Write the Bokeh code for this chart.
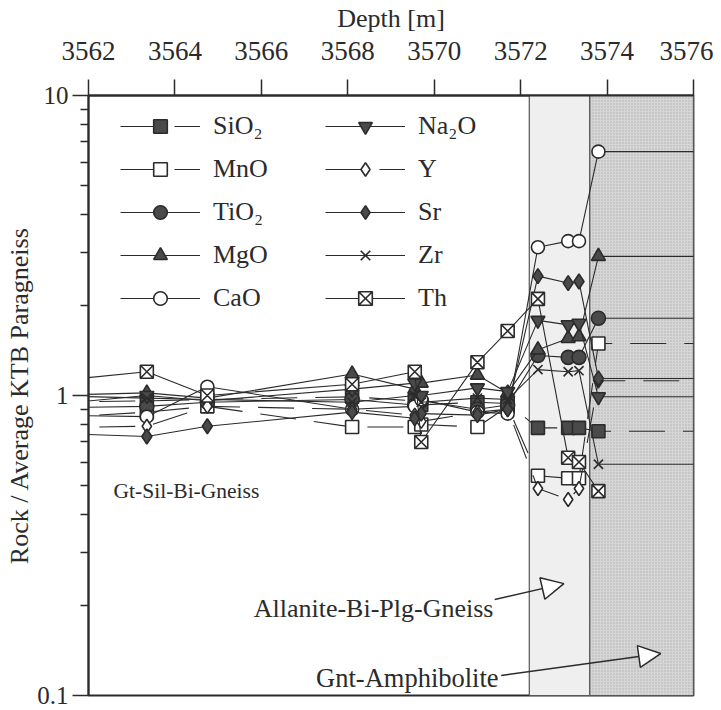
from bokeh.plotting import figure
from bokeh.models import (FixedTicker, Legend, LegendItem, Arrow, NormalHead, Label,
                          Range1d, ColumnDataSource)
from bokeh.embed import file_html
from bokeh.resources import INLINE

# ---------------- data ----------------
depth = [3561.0, 3563.35, 3564.75, 3568.1, 3569.55, 3569.7, 3571.0, 3571.7,
         3572.4, 3573.1, 3573.35, 3573.8, 3577.0]

SiO2 = [0.95, 0.96, 0.97, 0.99, 0.96, 0.93, 0.95, 0.94, 0.78, 0.78, 0.78, 0.76, 0.76]
MnO  = [0.84, 0.88, 0.92, 0.785, 0.785, 0.80, 0.785, 0.92, 0.54, 0.53, 0.53, 1.49, 1.49]
TiO2 = [0.91, 0.92, 0.95, 0.97, 0.93, 0.96, 0.90, 0.93, 1.36, 1.34, 1.34, 1.81, 1.81]
MgO  = [1.00, 1.02, 0.98, 1.18, 1.05, 1.10, 1.17, 1.02, 1.42, 1.55, 1.57, 2.91, 2.91]
CaO  = [0.86, 0.85, 1.07, 0.90, 0.92, 0.97, 0.88, 0.87, 3.12, 3.27, 3.27, 6.5, 6.5]
Na2O = [0.93, 1.00, 0.96, 1.05, 1.10, 1.00, 1.06, 1.03, 1.78, 1.72, 1.74, 0.99, 0.99]
Y    = [0.78, 0.79, 0.92, 0.90, 0.86, 0.82, 0.88, 0.90, 0.49, 0.45, 0.49, 1.12, 1.12]
Sr   = [0.75, 0.73, 0.79, 0.88, 0.84, 0.87, 0.86, 0.90, 2.50, 2.37, 2.40, 1.14, 1.14]
Zr   = [1.00, 0.98, 0.97, 0.95, 1.00, 0.95, 0.98, 0.97, 1.22, 1.20, 1.21, 0.59, 0.59]
Th   = [1.11, 1.20, 1.00, 1.09, 1.20, 0.70, 1.29, 1.64, 2.10, 0.62, 0.60, 0.48, float("nan")]

x_ticks = [3562, 3564, 3566, 3568, 3570, 3572, 3574, 3576]
y_ticks = [0.1, 1, 10]
y_tick_labels = ["0.1", "1", "10"]

# lithology zones (depth boundaries)
zone_allanite = [3572.2, 3573.6]
zone_amphibolite = [3573.6, 3576.0]

FONT = "Liberation Serif"
INK = "#2b2b2b"

# ---------------- figure ----------------
p = figure(frame_width=605, frame_height=600,
           x_range=Range1d(3562, 3576), y_range=Range1d(0.1, 10),
           y_axis_type="log", x_axis_location="above",
           output_backend="svg", toolbar_location=None,
           min_border_left=88, min_border_top=94, min_border_right=20, min_border_bottom=16)
p.xgrid.visible = False
p.ygrid.visible = False
p.outline_line_color = INK
p.outline_line_width = 1.8
p.background_fill_color = "white"
p.border_fill_color = "white"

# zones
p.quad(left=[zone_allanite[0]], right=[zone_allanite[1]], bottom=[0.1], top=[10],
       fill_color="#efefef", line_color="#555555", line_width=1.2)
p.quad(left=[zone_amphibolite[0]], right=[zone_amphibolite[1]], bottom=[0.1], top=[10],
       fill_color="#d6d6d6", line_color="#555555", line_width=1.2,
       hatch_pattern=".", hatch_color="#a0a0a0", hatch_scale=3, hatch_alpha=0.7)

src = ColumnDataSource(dict(depth=depth, SiO2=SiO2, MnO=MnO, TiO2=TiO2, MgO=MgO, CaO=CaO,
                            Na2O=Na2O, Y=Y, Sr=Sr, Zr=Zr, Th=Th))

series = [
    ("SiO2", "SiO₂", "square", True, True, 13),
    ("MnO", "MnO", "square", False, True, 13),
    ("TiO2", "TiO₂", "circle", True, False, 14),
    ("MgO", "MgO", "triangle", True, False, 14),
    ("CaO", "CaO", "circle", False, False, 13),
    ("Na2O", "Na₂O", "inverted_triangle", True, False, 14),
    ("Y", "Y", "diamond", False, True, 14),
    ("Sr", "Sr", "diamond", True, False, 15),
    ("Zr", "Zr", "x", False, False, 13),
    ("Th", "Th", "square_x", False, False, 13),
]

items = []
for col, lab, marker, filled, dashed, size in series:
    lr = p.line("depth", col, source=src, line_color=INK, line_width=1.1,
                line_dash="36 18" if dashed else "solid")
    sr = p.scatter("depth", col, source=src, marker=marker, size=size,
                   fill_color="#4a4a4a" if filled else "white",
                   line_color=INK, line_width=1.6)
    items.append(LegendItem(label=lab, renderers=[lr, sr]))


def make_legend(its, loc):
    return Legend(items=its, location=loc, orientation="vertical",
                  glyph_width=80, glyph_height=34, label_height=34, spacing=9,
                  label_standoff=13, padding=0, margin=0,
                  border_line_color=None, background_fill_alpha=0.0,
                  label_text_font=FONT, label_text_font_size="26px",
                  label_text_color=INK)


p.add_layout(make_legend(items[:5], (32, 380)))
p.add_layout(make_legend(items[5:], (237, 380)))

# axes
xa = p.xaxis[0]
xa.ticker = FixedTicker(ticks=x_ticks, minor_ticks=[])
xa.axis_label = "Depth [m]"
xa.axis_label_text_font = FONT
xa.axis_label_text_font_style = "normal"
xa.axis_label_text_font_size = "26px"
xa.axis_label_text_color = INK
xa.axis_label_standoff = 6
xa.major_label_text_font = FONT
xa.major_label_text_font_size = "27px"
xa.major_label_text_color = INK
xa.major_label_standoff = 20
xa.major_tick_out = 16
xa.major_tick_in = 0
xa.minor_tick_out = 0
xa.axis_line_width = 2
xa.axis_line_color = INK
xa.major_tick_line_color = INK
xa.major_tick_line_width = 1.5

minor = []
for dec in [0.1, 1]:
    for m in range(2, 10):
        minor.append(round(dec * m, 3))
ya = p.yaxis[0]
ya.ticker = FixedTicker(ticks=y_ticks, minor_ticks=minor)
ya.major_label_overrides = {t: l for t, l in zip(y_ticks, y_tick_labels)}
ya.axis_label = "Rock / Average KTB Paragneiss"
ya.axis_label_text_font = FONT
ya.axis_label_text_font_style = "normal"
ya.axis_label_text_font_size = "26px"
ya.axis_label_text_color = INK
ya.axis_label_standoff = 0
ya.major_label_text_font = FONT
ya.major_label_text_font_size = "25px"
ya.major_label_text_color = INK
ya.major_label_standoff = 4
ya.major_tick_out = 16
ya.major_tick_in = 0
ya.minor_tick_out = 8
ya.minor_tick_in = 0
ya.axis_line_width = 2
ya.axis_line_color = INK
ya.major_tick_line_color = INK
ya.major_tick_line_width = 1.5
ya.minor_tick_line_color = INK
ya.minor_tick_line_width = 1.3

# annotations
p.add_layout(Label(x=3562.58, y=0.479, text="Gt-Sil-Bi-Gneiss", text_font=FONT,
                   text_font_size="21.5px", text_color=INK, text_baseline="middle"))
p.add_layout(Label(x=3571.37, y=0.195, text="Allanite-Bi-Plg-Gneiss", text_font=FONT,
                   text_font_size="26px", text_color=INK, text_baseline="middle",
                   text_align="right"))
p.add_layout(Label(x=3571.49, y=0.114, text="Gnt-Amphibolite", text_font=FONT,
                   text_font_size="26.5px", text_color=INK, text_baseline="middle",
                   text_align="right"))
p.add_layout(Arrow(end=NormalHead(size=22, fill_color="white", line_color=INK, line_width=1.5),
                   x_start=3571.4, y_start=0.209, x_end=3573.0, y_end=0.236,
                   line_color=INK, line_width=1.5))
p.add_layout(Arrow(end=NormalHead(size=22, fill_color="white", line_color=INK, line_width=1.5),
                   x_start=3571.55, y_start=0.1166, x_end=3575.24, y_end=0.138,
                   line_color=INK, line_width=1.5))

open("out.html", "w").write(file_html(p, INLINE))
